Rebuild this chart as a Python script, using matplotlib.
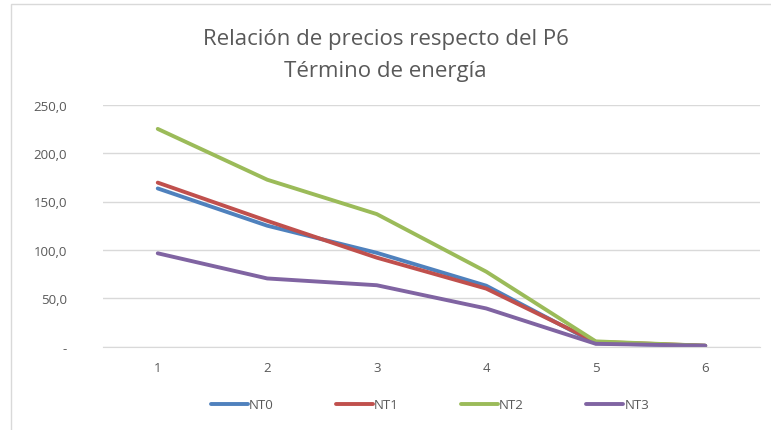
import matplotlib.pyplot as plt
from matplotlib.patches import Rectangle
from matplotlib.ticker import FuncFormatter

# Datos
periods = [1, 2, 3, 4, 5, 6]
nt0 = [163.5, 125.0, 97.0, 63.0, 3.5, 1.0]
nt1 = [169.5, 130.0, 92.0, 60.0, 5.0, 1.0]
nt2 = [225.0, 172.5, 137.0, 77.5, 5.5, 1.0]
nt3 = [96.5, 70.5, 63.5, 39.5, 3.0, 1.0]
series_names = ['NT0', 'NT1', 'NT2', 'NT3']
colors = ['#4F81BD', '#C0504D', '#9BBB59', '#8064A2']

fig = plt.figure(figsize=(7.71, 4.31), dpi=100)
fig.patches.append(Rectangle((11 / 771, -0.01), 1.0, 1 - 5 / 431 + 0.01,
                             transform=fig.transFigure, fill=False,
                             edgecolor='#D9D9D9', linewidth=1))

ax = fig.add_axes([103 / 771, 1 - 347.7 / 431, (760 - 103) / 771, (347.7 - 105.7) / 431])

for vals, name, c in zip([nt0, nt1, nt2, nt3], series_names, colors):
    ax.plot(periods, vals, color=c, linewidth=2.8, label=name,
            solid_capstyle='round', solid_joinstyle='round')

ax.set_xlim(0.5, 6.5)
ax.set_ylim(0, 250)
ax.set_yticks([0, 50, 100, 150, 200, 250])
ax.yaxis.set_major_formatter(FuncFormatter(
    lambda v, p: '-' if v == 0 else f'{v:.1f}'.replace('.', ',')))
ax.set_xticks(periods)

ax.grid(axis='y', color='#D9D9D9', linewidth=1)
ax.set_axisbelow(True)
for s in ['top', 'right', 'left']:
    ax.spines[s].set_visible(False)
ax.spines['bottom'].set_color('#D9D9D9')
ax.tick_params(axis='both', length=0, colors='#595959', labelsize=9.5)
ax.tick_params(axis='x', pad=10)
ax.tick_params(axis='y', pad=26)
for lbl in ax.get_xticklabels() + ax.get_yticklabels():
    lbl.set_fontfamily('Open Sans')

# Título en dos líneas
fig.text(0.5, 1 - 39 / 431, 'Relación de precios respecto del P6', ha='center', va='center',
         fontsize=16, color='#595959', family='Open Sans')
fig.text(0.5, 1 - 71 / 431, 'Término de energía', ha='center', va='center',
         fontsize=16, color='#595959', family='Open Sans')

leg = fig.legend(loc='center', bbox_to_anchor=(430 / 771, 1 - 406 / 431), ncol=4,
                 frameon=False, handlelength=2.8, handletextpad=0.1, columnspacing=4.7,
                 prop={'family': 'Open Sans', 'size': 9.5})
for t in leg.get_texts():
    t.set_color('#595959')

fig.savefig('out.png', dpi=100)
